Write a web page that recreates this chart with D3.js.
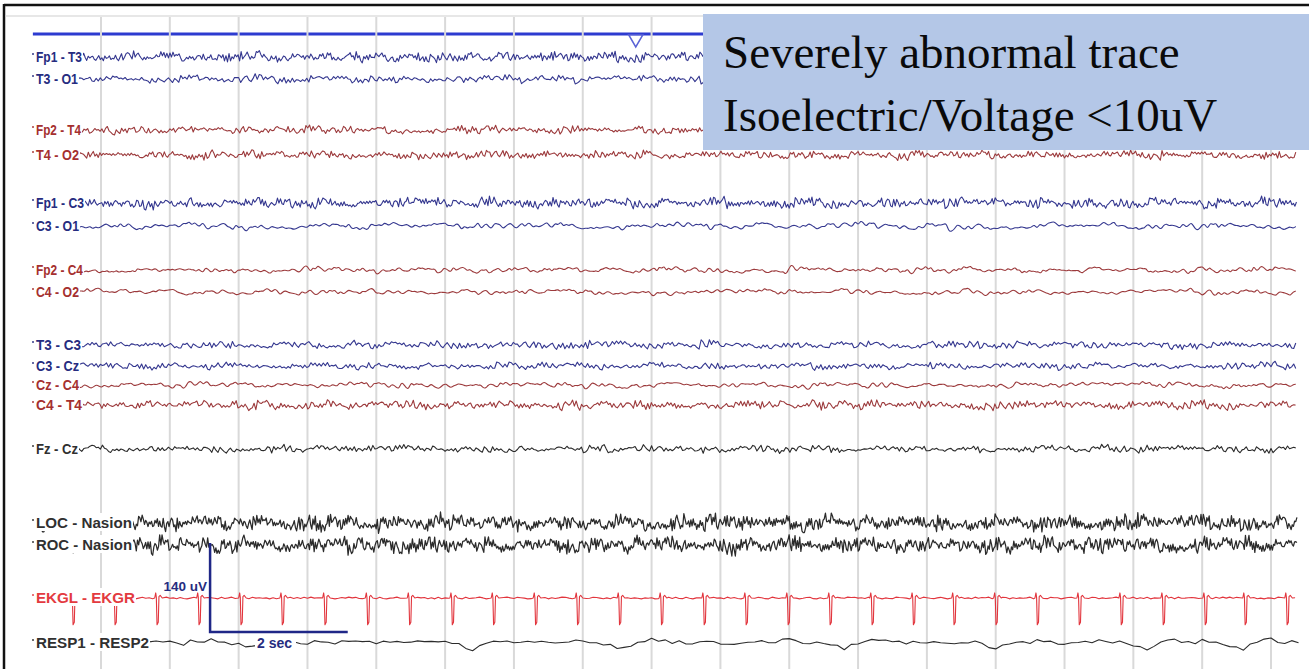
<!DOCTYPE html>
<html>
<head>
<meta charset="utf-8">
<script src="https://cdn.jsdelivr.net/npm/d3@7/dist/d3.min.js"></script>
<style>
  body { margin: 0; background: #fff; }
  svg { display: block; }
</style>
</head>
<body>
<svg id="eeg" width="1309" height="669"></svg>
<script>
// ---- data ----
const channels = ["Fp1 - T3", "T3 - O1", "Fp2 - T4", "T4 - O2", "Fp1 - C3", "C3 - O1", "Fp2 - C4", "C4 - O2",
  "T3 - C3", "C3 - Cz", "Cz - C4", "C4 - T4", "Fz - Cz", "LOC - Nasion", "ROC - Nasion", "EKGL - EKGR", "RESP1 - RESP2"];
const channelGroup = ["blue", "blue", "red", "red", "blue", "blue", "red", "red",
  "blue", "blue", "red", "red", "black", "black", "black", "ekg", "black"];
// uV per noise unit (trace amplitude)
const channelGain = [1.35, 1.05, 1.05, 1.1, 1.4, 1.25, 1.0, 1.05, 1.05, 0.95, 1.0, 1.2, 1.0, 2.2, 2.2, 0.3, 0.6];
// seconds between samples
const channelStep = [0.022, 0.03, 0.026, 0.024, 0.022, 0.04, 0.034, 0.04, 0.03, 0.03, 0.036, 0.026, 0.03, 0.017, 0.017, 0.05, 0.1];
const noiseOffset = [0, 210, 415, 33, 520, 140, 300, 460, 75, 600, 250, 380, 180, 90, 330, 12, 44];

// recorded low-level activity, one digit per sample (0..9, centred on 4.5)
const noiseDigits =
  "47182936052947106358816392047535928107467204836195" +
  "69351720481487630925925071846350613948272839465710" +
  "03749582167618204593342985716081537460924695031287" +
  "95286401733706259841609238741518749625305360174928" +
  "21830564798451937206473861095269254037810617248539" +
  "78462913505219764083296315840740825193769134870625" +
  "35904721866047831592871524693073916280541528093467" +
  "52670183949386502714054197328626483901758473165209" +
  "61093857422753148960739640251848105763293962758014" +
  "84526079311074295836568013974292478615030385912647" +
  "40238196577961530428381746502961590287342604397185" +
  "17965430824830267195917258634053687140297249105836" +
  "06312745988592016473240589316737164592806853021974";

// EKG R-wave times (s)
const ekgSpikes = [-0.41, 0.20, 0.81, 1.42, 2.03, 2.63, 3.25, 3.87, 4.48, 5.10, 5.70, 6.31, 6.92, 7.53, 8.14,
  8.76, 9.37, 9.98, 10.59, 11.20, 11.80, 12.39, 13.00, 13.60, 14.21, 14.82, 15.43, 16.04, 16.62, 17.23];
// QRS shape: [s from R, uV]
const qrsShape = [[-0.03, 0], [-0.015, 8], [-0.006, 1], [0.004, -42], [0.022, -38], [0.032, 2], [0.05, 4], [0.08, 0]];

// respiration, uV every 0.1 s from -1 s
const respValues = [0, 1, 1, -1, 0, 1, -1, 0, 0, 2, 1, -1, 0, 1, -1, 0, 0, 2, 1,
  0, 2, 1, -1, 2, 3, 1, 4, 3, 1, 0, -2, -4, -7, -3, 0, 1, 2, 0, 1,
  1, -1, 1, 2, -1, 0, 2, 4, 1, 3, 0, -1, 2, 1, 1, 3, 4, 6, 3, 1,
  2, 0, -1, -3, -7, -10, -5, -2, 2, 4, 1, 2, 4, 3, 1, 0, 2, 1, 1, 3,
  2, 1, 0, -1, -1, -3, -6, -9, -3, 1, 3, 6, 3, 4, 2, 1, 0, -1, 1, 0,
  2, 1, -1, 0, 1, -1, 0, 1, 0, 2, 4, 6, 4, 2, 1, 0, 0, -2, -5, -8,
  -3, 0, 2, 3, 2, 5, 4, 2, 1, 0, 2, 1, 0, -1, 0, 1, 0, 2, 1, -2,
  -7, -12, -4, 0, 1, 3, 2, 5, 3, 2, 1, 0, -1, 1, 0, 2, 3, 4, 2, 1,
  0, -2, -6, -12, -5, 0, 2, 4, 1, 2, 1, 3, 2, 0, -1, -3, -7, -11, -3, 2,
  4, 7, 3, 2, 1, 0];

const secondMarks = [0, 1, 2, 3, 4, 5, 6, 7, 8, 9, 10, 11, 12, 13, 14, 15, 16, 17];
const eventMarks = [7.77];
const calibration = { start: 1.585, uV: 140, sec: 2 };
const titleLines = ["Severely abnormal trace", "Isoelectric/Voltage <10uV"];

// ---- layout ----
const rowY = [57, 79, 130, 155, 203, 226, 270, 292, 345, 366, 385, 405, 449, 523, 545, 598, 643];
const labelEnd = [83, 79, 82, 80, 85, 80, 84, 80, 82, 80, 80, 83, 79, 133, 133, 136, 150];
const tStart = -1.0, tEnd = 17.38;

const colors = {
  blue: { trace: "#34378f", label: "#262c80" },
  red: { trace: "#9c3a3c", label: "#a5302f" },
  black: { trace: "#2b2b2b", label: "#303030" },
  ekg: { trace: "#e2353d", label: "#e33a40" }
};
const smooth = new Set(["C3 - O1", "C4 - O2", "Cz - C4", "Fp2 - C4"]);

const svg = d3.select("#eeg");
const x = d3.scaleLinear().domain([0, 17]).range([101, 1271]);
const amp = d3.scaleLinear().domain([0, 140]).range([0, 89]);

const noise = noiseDigits.split("").map(Number);
const noiseAt = k => noise[k % noise.length] - 4.5;
// slower wander and burst envelope, read from the same record further on
const slowAt = (o, j) => noiseAt(o + 311 + Math.floor(j / 9));
const envAt = (o, j) => 0.45 + noise[(o + 157 + Math.floor(j / 14)) % noise.length] / 12;

// frame
svg.append("line").attr("x1", 4).attr("x2", 1309).attr("y1", 5).attr("y2", 5)
  .attr("stroke", "#111").attr("stroke-width", 2.5);
svg.append("line").attr("x1", 4).attr("x2", 4).attr("y1", 4).attr("y2", 669)
  .attr("stroke", "#111").attr("stroke-width", 2.5);
svg.append("line").attr("x1", 5).attr("x2", 1309).attr("y1", 16).attr("y2", 16)
  .attr("stroke", "#cfcfcf").attr("stroke-width", 1.2);

// time bar
svg.append("line").attr("x1", x(-0.99)).attr("x2", x(tEnd)).attr("y1", 34).attr("y2", 34)
  .attr("stroke", "#2d3bd0").attr("stroke-width", 3);

// one-second grid
svg.append("g").selectAll("line").data(secondMarks).enter().append("line")
  .attr("x1", d => x(d)).attr("x2", d => x(d)).attr("y1", 17).attr("y2", 669)
  .attr("stroke", "#d9d9d9").attr("stroke-width", 2);

svg.append("g").selectAll("path").data(eventMarks).enter().append("path")
  .attr("d", d => `M${x(d) - 7},35 L${x(d) + 7},35 L${x(d)},47 Z`)
  .attr("fill", "#fff").attr("stroke", "#5a63d6").attr("stroke-width", 1.5);

// traces
const traces = svg.append("g").attr("fill", "none").attr("stroke-linejoin", "round");

channels.forEach((name, i) => {
  const o = noiseOffset[i], dt = channelStep[i], g = channelGain[i];
  let pts = [];
  if (channelGroup[i] === "ekg") {
    let k = o;
    for (let t = tStart; t <= tEnd; t += dt) {
      if (!ekgSpikes.some(s => t > s - 0.04 && t < s + 0.1)) pts.push([t, noiseAt(k) * g]);
      k++;
    }
    ekgSpikes.forEach(s => qrsShape.forEach(([d, v]) => pts.push([s + d, v])));
    pts.sort((a, b) => a[0] - b[0]);
  } else if (name.startsWith("RESP")) {
    pts = respValues.map((v, j) => [tStart + j * dt, v + noiseAt(o + j) * g]);
  } else {
    const n = Math.floor((tEnd - tStart) / dt);
    for (let j = 0; j <= n; j++) {
      pts.push([tStart + j * dt, g * (noiseAt(o + j) * envAt(o, j) + 0.55 * slowAt(o, j))]);
    }
  }
  const curve = smooth.has(name) ? d3.curveBasis : d3.curveLinear;
  const line = d3.line().x(d => x(d[0])).y(d => rowY[i] - amp(d[1])).curve(curve);
  traces.append("path").attr("d", line(pts))
    .attr("stroke", colors[channelGroup[i]].trace)
    .attr("stroke-width", name.endsWith("Nasion") ? 1.25 : 1.1);
});

// channel labels
const labels = svg.append("g").attr("font-family", "'Liberation Sans', Arial, sans-serif")
  .attr("font-weight", "bold").attr("font-size", 14);
channels.forEach((name, i) => {
  const g = labels.append("g");
  g.append("rect").attr("x", 31).attr("y", rowY[i] - 10).attr("width", labelEnd[i] - 31).attr("height", 18)
    .attr("fill", "#fff");
  g.append("rect").attr("x", 32).attr("y", rowY[i] - 4).attr("width", 2).attr("height", 2)
    .attr("fill", colors[channelGroup[i]].label).attr("opacity", 0.7);
  g.append("text").attr("x", 36).attr("y", rowY[i] + 5)
    .attr("textLength", labelEnd[i] - 37).attr("lengthAdjust", "spacingAndGlyphs")
    .attr("fill", colors[channelGroup[i]].label).text(name);
});

// calibration marker
const calY = rowY[16] - 11;
const cal = svg.append("g").attr("font-family", "'Liberation Sans', Arial, sans-serif")
  .attr("font-weight", "bold").attr("fill", "#262c80");
cal.append("path")
  .attr("d", `M${x(calibration.start)},${calY - amp(calibration.uV)} L${x(calibration.start)},${calY} L${x(calibration.start + calibration.sec)},${calY}`)
  .attr("fill", "none").attr("stroke", "#1f2787").attr("stroke-width", 2.5);
cal.append("text").attr("x", x(calibration.start) - 3).attr("y", 591)
  .attr("text-anchor", "end").attr("font-size", 13.5)
  .text(calibration.uV + " uV");
cal.append("rect").attr("x", 255).attr("y", rowY[16] - 8).attr("width", 41).attr("height", 15).attr("fill", "#fff");
cal.append("text").attr("x", 257).attr("y", rowY[16] + 5).attr("font-size", 14)
  .text(calibration.sec + " sec");

// annotation box
svg.append("rect").attr("x", 703).attr("y", 14).attr("width", 606).attr("height", 136).attr("fill", "#b4c7e7");
svg.append("g").selectAll("text").data(titleLines).enter().append("text")
  .attr("x", 723).attr("y", (d, i) => 68 + i * 63)
  .attr("font-family", "'Liberation Serif', 'Times New Roman', serif").attr("font-size", 47)
  .attr("fill", "#0a0a0a").text(d => d);
</script>
</body>
</html>
